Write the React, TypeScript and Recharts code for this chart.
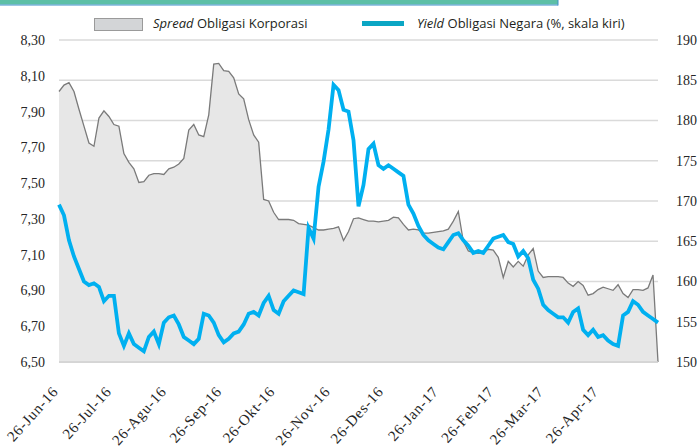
import React from 'react';
import { ComposedChart, Area, Line, XAxis, YAxis, CartesianGrid } from 'recharts';

// Spread Obligasi Korporasi (right axis, bps)
const spreadValues = [
  183.6, 184.4, 184.7, 183.6, 181.4, 179.3, 177.2, 176.8, 180.3, 181.2,
  180.5, 179.5, 179.3, 175.9, 174.8, 174.0, 172.3, 172.4, 173.2, 173.4,
  173.4, 173.3, 174.0, 174.2, 174.6, 175.3, 178.8, 179.5, 178.2, 178.0,
  180.7, 187.0, 187.1, 186.2, 186.1, 185.3, 183.3, 182.7, 180.1, 178.2,
  177.3, 170.2, 170.0, 168.6, 167.7, 167.7, 167.7, 167.6, 167.2, 167.1,
  167.0, 166.7, 166.4, 166.4, 166.5, 166.6, 166.8, 165.1, 166.2, 167.8,
  167.9, 167.7, 167.5, 167.5, 167.4, 167.5, 167.6, 168.0, 167.9, 167.1,
  166.4, 166.5, 166.4, 166.0, 166.0, 166.1, 166.2, 166.3, 166.5, 167.5,
  168.7, 165.0, 163.8, 163.6, 163.5, 163.6, 164.0, 163.9, 163.0, 160.5,
  162.5, 161.8, 162.5, 161.9, 163.3, 164.1, 161.3, 160.5, 160.6, 160.6,
  160.6, 160.5, 159.8, 159.4, 160.0, 159.5, 158.3, 158.5, 159.0, 159.3,
  159.1, 158.9, 159.6, 158.5, 158.0, 159.0, 159.0, 158.9, 159.2, 160.8,
  150.0,
];

// Yield Obligasi Negara (%, left axis)
const yieldValues = [
  7.38, 7.32, 7.18, 7.09, 7.02, 6.95, 6.93, 6.94, 6.92, 6.84,
  6.87, 6.87, 6.66, 6.59, 6.66, 6.60, 6.58, 6.56, 6.64, 6.67,
  6.60, 6.72, 6.75, 6.76, 6.71, 6.64, 6.62, 6.60, 6.63, 6.77,
  6.76, 6.72, 6.65, 6.61, 6.63, 6.66, 6.67, 6.71, 6.77, 6.78,
  6.76, 6.83, 6.87, 6.79, 6.77, 6.84, 6.87, 6.90, 6.89, 6.88,
  7.25, 7.19, 7.48, 7.62, 7.80, 8.05, 8.02, 7.91, 7.90, 7.74,
  7.37, 7.49, 7.69, 7.72, 7.60, 7.58, 7.60, 7.58, 7.56, 7.54,
  7.38, 7.33, 7.26, 7.21, 7.18, 7.16, 7.14, 7.13, 7.17, 7.21,
  7.22, 7.18, 7.15, 7.11, 7.12, 7.11, 7.15, 7.19, 7.20, 7.21,
  7.17, 7.16, 7.09, 7.12, 7.08, 6.96, 6.91, 6.82, 6.79, 6.77,
  6.75, 6.75, 6.72, 6.78, 6.80, 6.68, 6.65, 6.68, 6.64, 6.65,
  6.62, 6.60, 6.59, 6.76, 6.78, 6.84, 6.82, 6.78, 6.76, 6.74,
  6.72,
];

// days since 26-Jun-16
const SPAN_DAYS = 337;
const tickDays = [0, 30, 61, 92, 122, 153, 183, 214, 245, 273, 304];
const tickLabels = [
  '26-Jun-16', '26-Jul-16', '26-Agu-16', '26-Sep-16', '26-Okt-16', '26-Nov-16',
  '26-Des-16', '26-Jan-17', '26-Feb-17', '26-Mar-17', '26-Apr-17',
];
const leftTicks = [6.5, 6.7, 6.9, 7.1, 7.3, 7.5, 7.7, 7.9, 8.1, 8.3];
const rightTicks = [150, 155, 160, 165, 170, 175, 180, 185, 190];

const data = spreadValues.map((s, i) => ({
  day: (i * SPAN_DAYS) / (spreadValues.length - 1),
  spread: s,
  yld: yieldValues[i],
}));

const SERIF = "'Liberation Serif', 'DejaVu Serif', serif";
const axisFont = { fontFamily: SERIF, fontSize: 14, fill: '#262626' };

const XTick = (props: any) => {
  const x = Number(props.x);
  const y = Number(props.y);
  const idx = tickDays.indexOf(props.payload?.value);
  return (
    <g transform={`translate(${x},${y}) rotate(-48)`}>
      <text
        x={0}
        y={0}
        textAnchor="end"
        style={{ fontFamily: SERIF, fontSize: 15, letterSpacing: 0.8, fill: '#262626' }}
      >
        {idx >= 0 ? tickLabels[idx] : ''}
      </text>
    </g>
  );
};

export default function App() {
  return (
    <div style={{ position: 'absolute', left: 0, top: 0, width: 698, height: 448, background: '#ffffff' }}>
      <ComposedChart
        width={698}
        height={448}
        data={data}
        margin={{ top: 40, right: 0, bottom: 0, left: 0 }}
      >
        <CartesianGrid yAxisId="right" vertical={false} stroke="#dadada" strokeWidth={1.5} />
        <XAxis
          dataKey="day"
          type="number"
          domain={[0, SPAN_DAYS]}
          ticks={tickDays}
          interval={0}
          tick={XTick}
          tickLine={false}
          tickSize={0}
          tickMargin={30}
          height={86}
          axisLine={{ stroke: '#d0d0d0', strokeWidth: 1.5 }}
        />
        <YAxis
          yAxisId="left"
          orientation="left"
          type="number"
          domain={[6.5, 8.3]}
          ticks={leftTicks}
          interval={0}
          width={59}
          axisLine={false}
          tickLine={false}
          tickSize={0}
          tickMargin={14}
          tick={axisFont}
          tickFormatter={(v: number) => v.toFixed(2).replace('.', ',')}
        />
        <YAxis
          yAxisId="right"
          orientation="right"
          type="number"
          domain={[150, 190]}
          ticks={rightTicks}
          interval={0}
          width={40}
          axisLine={false}
          tickLine={false}
          tickSize={0}
          tickMargin={18}
          tick={axisFont}
        />
        <Area
          yAxisId="right"
          type="linear"
          dataKey="spread"
          stroke="#7a7a7a"
          strokeWidth={1.3}
          fill="#e7e7e7"
          fillOpacity={1}
          dot={false}
          activeDot={false}
          isAnimationActive={false}
        />
        <Line
          yAxisId="left"
          type="linear"
          dataKey="yld"
          stroke="#00b0f0"
          strokeWidth={3.8}
          dot={false}
          activeDot={false}
          isAnimationActive={false}
        />
      </ComposedChart>
      <svg
        width={698}
        height={40}
        style={{ position: 'absolute', left: 0, top: 0, pointerEvents: 'none' }}
      >
        <rect x={0} y={0} width={558} height={4.5} fill="#5cbfa6" />
        <line x1={0} y1={5} x2={558} y2={5} stroke="#3d8fc9" strokeWidth={1} />
        <line x1={558} y1={0} x2={558} y2={5.5} stroke="#3d8fc9" strokeWidth={1} />
        <rect x={94.5} y={18.5} width={48} height={12} fill="#d3d5d7" stroke="#9a9a9a" strokeWidth={1} />
        <text x={153} y={27.5} fontFamily='"Open Sans", sans-serif' fontSize={13} fill="#231f20">
          <tspan fontStyle="italic">Spread</tspan> Obligasi Korporasi
        </text>
        <rect x={362} y={21} width={42} height={5} fill="#0ba6c4" />
        <text x={417} y={27.5} fontFamily='"Open Sans", sans-serif' fontSize={13} fill="#231f20">
          <tspan fontStyle="italic">Yield</tspan> Obligasi Negara (%, skala kiri)
        </text>
      </svg>
    </div>
  );
}
